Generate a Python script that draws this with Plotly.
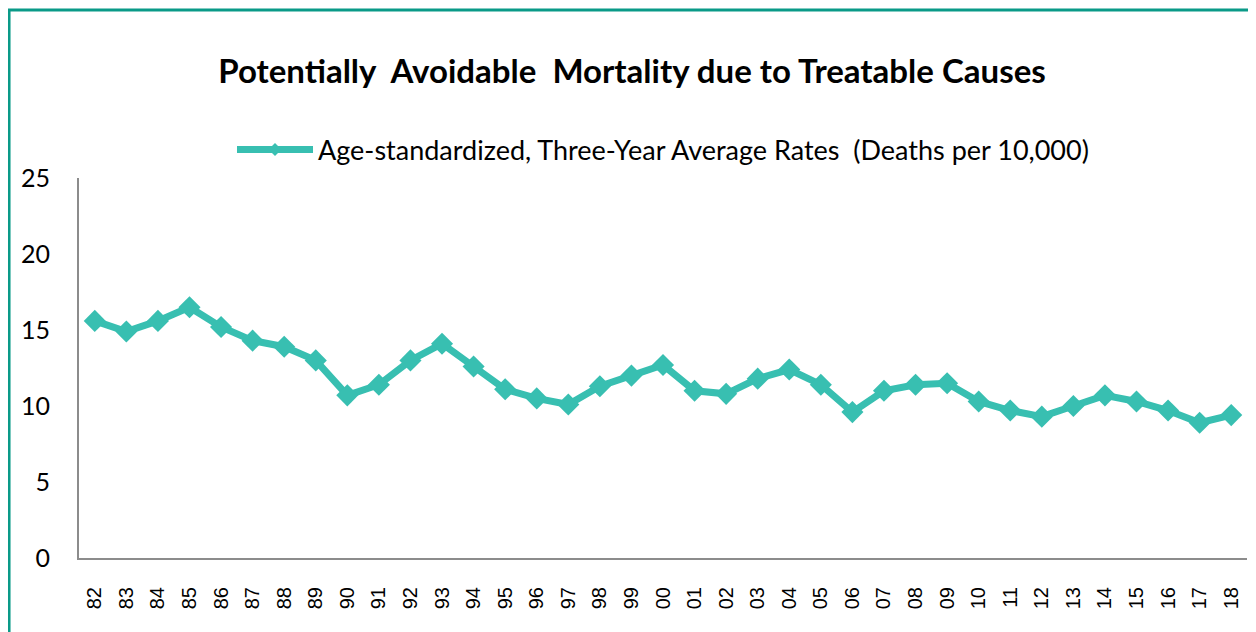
import plotly.graph_objects as go

years = ["82", "83", "84", "85", "86", "87", "88", "89", "90", "91", "92", "93",
         "94", "95", "96", "97", "98", "99", "00", "01", "02", "03", "04", "05",
         "06", "07", "08", "09", "10", "11", "12", "13", "14", "15", "16", "17", "18"]
rates = [15.6, 14.9, 15.6, 16.5, 15.2, 14.3, 13.9, 13.0, 10.7, 11.4, 13.0, 14.1,
         12.6, 11.1, 10.5, 10.1, 11.3, 12.0, 12.7, 11.0, 10.8, 11.8, 12.4, 11.4,
         9.6, 11.0, 11.4, 11.5, 10.3, 9.7, 9.3, 10.0, 10.7, 10.3, 9.7, 8.9, 9.4]
y_ticks = [0, 5, 10, 15, 20, 25]
series_name = "Age-standardized, Three-Year Average Rates  (Deaths per 10,000)"

teal = "#38bfb1"
axis_grey = "#8c8c8c"

fig = go.Figure()
fig.add_trace(go.Scatter(
    x=years, y=rates, mode="lines+markers", showlegend=False,
    line=dict(color=teal, width=7),
    marker=dict(symbol="diamond", size=17, color=teal),
))
# legend entry with the smaller marker used in the original legend
fig.add_trace(go.Scatter(
    x=[None], y=[None], mode="lines+markers", name=series_name,
    line=dict(color=teal, width=7),
    marker=dict(symbol="diamond", size=10, color=teal),
))

# the page body has an 8px margin, so the figure is 8px smaller
fig.update_layout(
    width=1248, height=624,
    margin=dict(l=71, r=9, t=170, b=74),
    paper_bgcolor="white", plot_bgcolor="white",
    font=dict(family="Lato", color="black"),
    title=dict(text="<b>Potentially  Avoidable  Mortality due to Treatable Causes</b>",
               x=0.5, xanchor="center", y=0.898, yanchor="middle",
               font=dict(size=33, family="Lato")),
    showlegend=True,
    legend=dict(orientation="h", x=0.5, xanchor="center", y=1.074, yanchor="middle",
                itemwidth=76, font=dict(size=27, family="Lato"),
                bgcolor="rgba(0,0,0,0)"),
    xaxis=dict(type="category", range=[-0.5, len(years) - 0.5], automargin=False,
               showline=True, linecolor=axis_grey, linewidth=2,
               showgrid=False, ticks="", tickangle=-90, ticklabelstandoff=19,
               tickfont=dict(size=20, family="Liberation Sans"), fixedrange=True),
    yaxis=dict(range=[0, 25], tickvals=y_ticks, automargin=False, showline=True,
               linecolor=axis_grey, linewidth=2, showgrid=False, zeroline=False,
               ticks="", ticklabelstandoff=22, tickfont=dict(size=25, family="Lato")),
    shapes=[dict(type="rect", xref="paper", yref="paper",
                 x0=-0.0599, x1=1.0051, y0=-0.25, y1=1.442,
                 line=dict(color="#0a9a88", width=3), fillcolor="rgba(0,0,0,0)",
                 layer="below")],
)

fig.write_html("out.html")
